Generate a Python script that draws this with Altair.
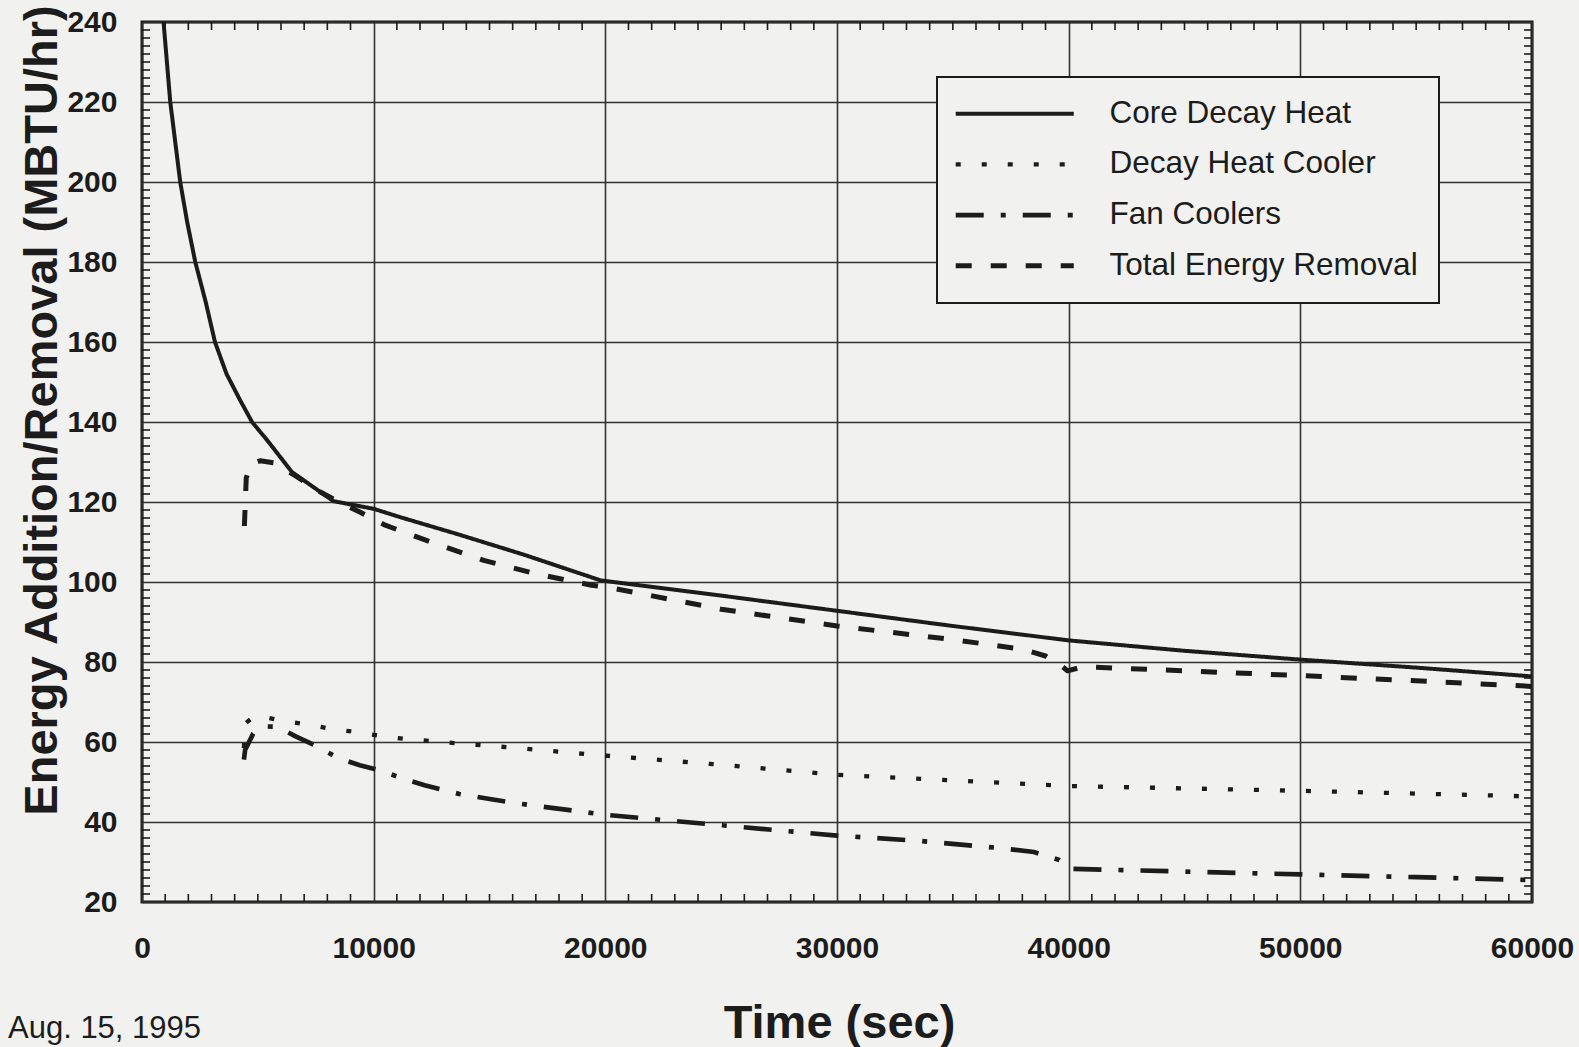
import altair as alt
import pandas as pd

# ---------------- data ----------------
SERIES = ["Core Decay Heat", "Decay Heat Cooler", "Fan Coolers", "Total Energy Removal"]

TIME_CORE = [930, 1220, 1650, 1950, 2300, 2750, 3150, 3650, 4240, 4750, 5410, 6470, 7700,
             8270, 10000, 11150, 13600, 16500, 19800, 25000, 30000, 35000, 40000, 45000,
             50000, 55000, 60000]
CORE = [240, 220, 200, 190, 180, 170, 160, 152, 145.4, 140, 135.4, 127.5, 122.5,
        120.2, 118.3, 116.2, 112, 106.8, 100.4, 96.6, 92.8, 89, 85.4, 82.8,
        80.6, 78.6, 76.4]

TIME_DHC = [4400, 4450, 4900, 6040, 7160, 8240, 9360, 10400, 11500, 12600, 13700, 16000,
            19300, 20000, 25000, 30000, 35000, 40000, 45000, 50000, 55000, 60000]
DHC = [58.5, 64.6, 66.7, 65.3, 64.4, 63.2, 62.4, 61.4, 60.7, 60.2, 59.6, 58.6,
       56.9, 56.6, 54.3, 51.8, 50.4, 49, 48.4, 47.8, 47.1, 46.4]

TIME_FAN = [4400, 4450, 4800, 5200, 5870, 6630, 7450, 8500, 9400, 10200, 11400, 12200,
            13700, 16000, 20000, 25000, 30000, 33500, 37000, 38500, 39600, 40100, 45000,
            50000, 55000, 60000]
FAN = [55.6, 58, 62.1, 63.9, 63.8, 61.4, 59.2, 55.9, 54.2, 53, 50.6, 49.2,
       47, 44.8, 41.8, 39.2, 36.6, 35.3, 33.5, 32.5, 30.5, 28.3, 27.6,
       26.9, 26.2, 25.5]

TIME_TOTAL = [4420, 4500, 4700, 5100, 5700, 6500, 7700, 8500, 9400, 10500, 12600, 14750,
              16900, 19400, 20000, 25000, 30000, 35000, 38000, 39000, 39700, 39950, 40600,
              45000, 50000, 55000, 60000]
TOTAL = [114, 126, 129.5, 130.3, 129.8, 127, 122.5, 120, 117.5, 114.2, 109.7, 105.4,
         102.2, 99.2, 98.8, 93.2, 89, 85.6, 83.2, 81.5, 79, 77.8, 78.8,
         77.8, 76.6, 75.3, 73.9]

X_TICKS = [0, 10000, 20000, 30000, 40000, 50000, 60000]
Y_TICKS = [20, 40, 60, 80, 100, 120, 140, 160, 180, 200, 220, 240]
X_MINOR = [t for t in range(1000, 60000, 1000) if t % 10000]
Y_MINOR = [v for v in range(22, 240, 2) if v % 20]
NOTE = "Aug. 15, 1995"

# ---------------- styling ----------------
FONT = "Liberation Sans"
INK = "#1c1c1c"
BG = "#f1f1ef"
W, H = 1390, 880
DASHES = [[1, 0], [5, 21], [28, 17, 5, 17], [16, 19]]
WIDTHS = [4, 5, 5, 5]

rows = []
for name, ts, vs in zip(SERIES, [TIME_CORE, TIME_DHC, TIME_FAN, TIME_TOTAL],
                        [CORE, DHC, FAN, TOTAL]):
    for i, (t, v) in enumerate(zip(ts, vs)):
        rows.append({"series": name, "time": t, "value": v, "order": i})
df = pd.DataFrame(rows)

xs = alt.Scale(domain=[0, 60000], nice=False, zero=False)
ys = alt.Scale(domain=[20, 240], nice=False, zero=False)

x_axis = alt.Axis(values=X_TICKS, format="d", title="Time (sec)", labelFlush=False,
                  labelPadding=31, titleX=697, titleY=135, titleBaseline="alphabetic",
                  titleAlign="center", titleFontSize=47)
y_axis = alt.Axis(values=Y_TICKS, title="Energy Addition/Removal (MBTU/hr)",
                  labelFlush=False, labelPadding=25, titleX=-86, titleY=388,
                  titleAngle=270, titleAlign="center", titleBaseline="alphabetic",
                  titleFontSize=47)

lines = alt.Chart(df).mark_line(color=INK, clip=True, strokeCap="butt", strokeJoin="round").encode(
    x=alt.X("time:Q", scale=xs, axis=x_axis),
    y=alt.Y("value:Q", scale=ys, axis=y_axis),
    strokeDash=alt.StrokeDash(
        "series:N", sort=SERIES,
        scale=alt.Scale(domain=SERIES, range=DASHES),
        legend=alt.Legend(orient="none", legendX=795, legendY=55, title=None, padding=21,
                          strokeColor=INK, fillColor=BG,
                          labelFont=FONT, labelFontSize=31.5, labelColor=INK, labelLimit=600,
                          symbolType="M-6,0H6", symbolSize=387, symbolStrokeColor=INK,
                          symbolStrokeWidth=4.5, symbolOffset=41, labelOffset=79,
                          rowPadding=17.7)),
    strokeWidth=alt.StrokeWidth("series:N", scale=alt.Scale(domain=SERIES, range=WIDTHS),
                                legend=None),
    order="order:Q",
)

xminor = pd.DataFrame({"time": X_MINOR})
yminor = pd.DataFrame({"value": Y_MINOR})
tick_style = dict(color=INK, strokeWidth=1.6)

bottom_ticks = alt.Chart(xminor).mark_rule(**tick_style).encode(
    x=alt.X("time:Q", scale=xs, axis=x_axis), y=alt.value(H), y2=alt.value(H - 8))
top_ticks = alt.Chart(xminor).mark_rule(**tick_style).encode(
    x=alt.X("time:Q", scale=xs, axis=x_axis), y=alt.value(0), y2=alt.value(8))
left_ticks = alt.Chart(yminor).mark_rule(**tick_style).encode(
    y=alt.Y("value:Q", scale=ys, axis=y_axis), x=alt.value(0), x2=alt.value(8))
right_ticks = alt.Chart(yminor).mark_rule(**tick_style).encode(
    y=alt.Y("value:Q", scale=ys, axis=y_axis), x=alt.value(W), x2=alt.value(W - 8))

note = alt.Chart(pd.DataFrame({"note": [NOTE]})).mark_text(
    align="left", baseline="alphabetic", font=FONT, fontSize=31, color=INK
).encode(text="note:N", x=alt.value(-134), y=alt.value(1016))

chart = alt.layer(lines, bottom_ticks, top_ticks, left_ticks, right_ticks, note).properties(
    width=W, height=H, background=BG,
    padding={"left": 142, "top": 22, "right": 47, "bottom": 145},
    autosize=alt.AutoSizeParams(type="none"),
).configure_view(
    stroke=INK, strokeWidth=3, fill=BG
).configure_legend(
    strokeWidth=2
).configure_axis(
    grid=True, gridColor="#333333", gridWidth=1.6, domain=False, ticks=False, tickSize=0,
    labelFont=FONT, labelFontWeight="bold", labelFontSize=30, labelColor=INK,
    titleFont=FONT, titleFontWeight="bold", titleColor=INK,
)

chart.save("out.html", embed_options={"renderer": "svg", "actions": False})
